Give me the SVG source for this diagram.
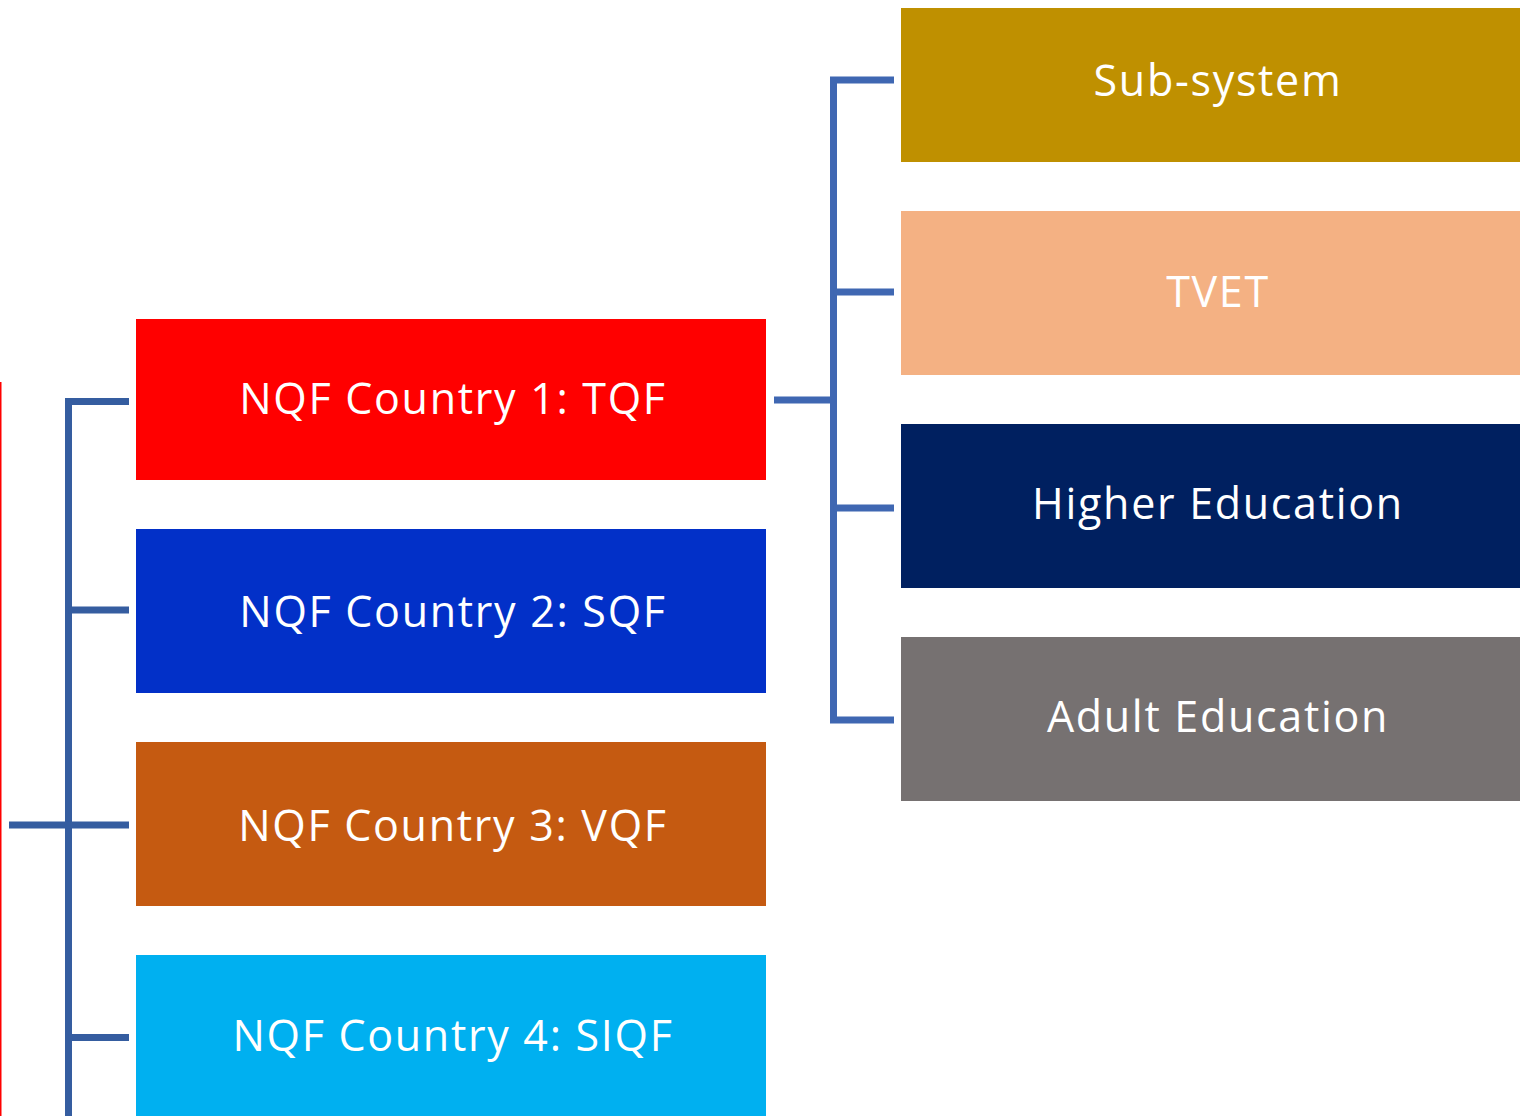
<svg xmlns="http://www.w3.org/2000/svg" width="1524" height="1116" viewBox="0 0 1524 1116">
<style>
.t{font-family:"Open Sans","Liberation Sans",sans-serif;font-size:43px;letter-spacing:1.7px;fill:#fff;text-anchor:middle}
.cl{stroke:#355DA0;stroke-width:7;fill:none}
.cr{stroke:#3F67B2;stroke-width:7;fill:none}
</style>
<rect width="1524" height="1116" fill="#fff"/>
<line x1="0.5" y1="382" x2="0.5" y2="1116" stroke="#FF0000" stroke-width="2"/>
<g id="connectors">
<path class="cl" d="M68.5 1116 V401.5 H129"/>
<path class="cl" d="M68.5 610 H129"/>
<path class="cl" d="M9 825 H129" stroke-width="9"/>
<path class="cl" d="M68.5 1037.5 H129"/>
<path class="cr" d="M774 400 H837" stroke-width="9"/>
<path class="cr" d="M894 80 H833.5 V720 H894"/>
<path class="cr" d="M833.5 292 H894"/>
<path class="cr" d="M833.5 508 H894" stroke-width="8"/>
</g>
<g id="n1"><rect x="136" y="319" width="630" height="161" fill="#FF0000"/><text class="t" x="453" y="414">NQF Country 1: TQF</text></g>
<g id="n2"><rect x="136" y="529" width="630" height="164" fill="#0230C8"/><text class="t" x="453" y="627">NQF Country 2: SQF</text></g>
<g id="n3"><rect x="136" y="742" width="630" height="164" fill="#C55A11"/><text class="t" x="453" y="841">NQF Country 3: VQF</text></g>
<g id="n4"><rect x="136" y="955" width="630" height="161" fill="#00B0F0"/><text class="t" x="453" y="1051">NQF Country 4: SIQF</text></g>
<g id="s1"><rect x="901" y="8" width="619" height="154" fill="#BF9000"/><text class="t" x="1218" y="96">Sub-system</text></g>
<g id="s2"><rect x="901" y="211" width="619" height="164" fill="#F4B183"/><text class="t" x="1218" y="307">TVET</text></g>
<g id="s3"><rect x="901" y="424" width="619" height="164" fill="#002060"/><text class="t" x="1218" y="519">Higher Education</text></g>
<g id="s4"><rect x="901" y="637" width="619" height="164" fill="#767171"/><text class="t" x="1218" y="732">Adult Education</text></g>
</svg>
